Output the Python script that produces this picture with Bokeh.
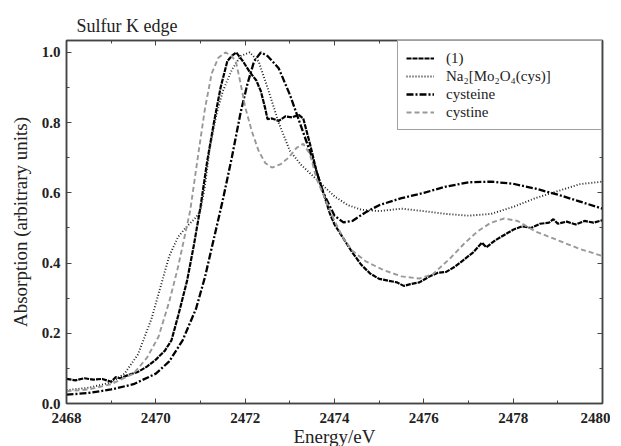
from bokeh.plotting import figure
from bokeh.models import (FixedTicker, LinearAxis, Range1d, Legend, LegendItem,
                          CustomJSTickFormatter)
from bokeh.embed import file_html
from bokeh.resources import INLINE

# ---- data ----
e1 = [2468.0, 2468.2, 2468.4, 2468.6, 2468.8, 2469.0, 2469.1, 2469.2, 2469.4, 2469.6,
      2469.8, 2470.0, 2470.2, 2470.35, 2470.5, 2470.7, 2470.85, 2471.0, 2471.15, 2471.3,
      2471.45, 2471.6, 2471.7, 2471.8, 2471.95, 2472.1, 2472.25, 2472.35, 2472.45, 2472.5,
      2472.6, 2472.75, 2472.9, 2473.05, 2473.2, 2473.3, 2473.45, 2473.6, 2473.75, 2473.9,
      2474.0, 2474.2, 2474.4, 2474.6, 2474.8, 2475.0, 2475.2, 2475.4, 2475.55, 2475.7,
      2475.9, 2476.1, 2476.3, 2476.5, 2476.7, 2476.9, 2477.1, 2477.3, 2477.4, 2477.6,
      2477.8, 2478.0, 2478.2, 2478.4, 2478.6, 2478.8, 2478.9, 2479.0, 2479.2, 2479.4,
      2479.6, 2479.8, 2480.0]
v1 = [0.070, 0.066, 0.072, 0.068, 0.070, 0.062, 0.075, 0.072, 0.082, 0.090,
      0.105, 0.125, 0.150, 0.180, 0.250, 0.350, 0.450, 0.560, 0.690, 0.800,
      0.900, 0.975, 0.990, 1.000, 0.975, 0.945, 0.920, 0.890, 0.840, 0.810,
      0.812, 0.805, 0.818, 0.815, 0.822, 0.812, 0.740, 0.660, 0.600, 0.540,
      0.510, 0.470, 0.430, 0.395, 0.370, 0.355, 0.350, 0.345, 0.335, 0.340,
      0.345, 0.360, 0.372, 0.375, 0.390, 0.410, 0.430, 0.458, 0.445, 0.465,
      0.480, 0.495, 0.505, 0.500, 0.512, 0.515, 0.525, 0.512, 0.518, 0.510,
      0.520, 0.515, 0.522]

e_na = [2468.0, 2468.5, 2469.0, 2469.3, 2469.6, 2469.9, 2470.1, 2470.3, 2470.5, 2470.7,
        2470.9, 2471.0, 2471.1, 2471.2, 2471.35, 2471.5, 2471.7, 2471.9, 2472.1, 2472.3,
        2472.5, 2472.75, 2473.0, 2473.25, 2473.5, 2473.75, 2474.0, 2474.3, 2474.6, 2475.0,
        2475.5, 2476.0, 2476.5, 2477.0, 2477.5, 2478.0, 2478.5, 2479.0, 2479.5, 2480.0]
v_na = [0.038, 0.045, 0.060, 0.085, 0.140, 0.240, 0.330, 0.420, 0.475, 0.505,
        0.530, 0.550, 0.620, 0.720, 0.820, 0.890, 0.950, 0.990, 1.000, 0.975,
        0.900, 0.800, 0.720, 0.680, 0.650, 0.620, 0.590, 0.565, 0.552, 0.548,
        0.555, 0.548, 0.540, 0.535, 0.540, 0.560, 0.585, 0.605, 0.625, 0.632]

e_cys = [2468.0, 2468.5, 2469.0, 2469.5, 2470.0, 2470.3, 2470.6, 2470.9, 2471.1, 2471.3,
         2471.5, 2471.7, 2471.9, 2472.05, 2472.2, 2472.35, 2472.5, 2472.75, 2473.0, 2473.25,
         2473.5, 2473.75, 2474.0, 2474.2, 2474.4, 2474.7, 2475.0, 2475.5, 2476.0, 2476.5,
         2477.0, 2477.5, 2478.0, 2478.5, 2479.0, 2479.5, 2480.0]
v_cys = [0.025, 0.030, 0.040, 0.055, 0.085, 0.120, 0.180, 0.270, 0.360, 0.470,
         0.580, 0.700, 0.830, 0.910, 0.975, 1.000, 0.990, 0.955, 0.880, 0.790,
         0.700, 0.600, 0.535, 0.516, 0.520, 0.545, 0.565, 0.585, 0.600, 0.618,
         0.630, 0.632, 0.626, 0.612, 0.595, 0.575, 0.555]

e_cyt = [2468.0, 2468.5, 2469.0, 2469.5, 2469.8, 2470.06, 2470.3, 2470.5, 2470.77, 2470.95,
         2471.1, 2471.25, 2471.4, 2471.56, 2471.7, 2471.8, 2471.9, 2472.0, 2472.15, 2472.3,
         2472.45, 2472.6, 2472.8, 2472.97, 2473.15, 2473.3, 2473.45, 2473.6, 2473.8, 2474.0,
         2474.2, 2474.4, 2474.7, 2475.1, 2475.5, 2475.9, 2476.2, 2476.6, 2476.9, 2477.2,
         2477.5, 2477.8, 2478.1, 2478.5, 2479.0, 2479.5, 2480.0]
v_cyt = [0.035, 0.040, 0.055, 0.085, 0.130, 0.190, 0.290, 0.390, 0.550, 0.710,
         0.840, 0.940, 0.985, 1.000, 0.990, 0.970, 0.910, 0.845, 0.775, 0.720,
         0.685, 0.672, 0.682, 0.700, 0.728, 0.740, 0.710, 0.640, 0.580, 0.520,
         0.470, 0.435, 0.405, 0.380, 0.362, 0.356, 0.368, 0.415, 0.455, 0.490,
         0.515, 0.527, 0.520, 0.490, 0.465, 0.440, 0.420]

labels = ["(1)", "Na\u2082[Mo\u2082O\u2084(cys)]", "cysteine", "cystine"]
x_ticks = [2468, 2470, 2472, 2474, 2476, 2478, 2480]
x_minor = [2469, 2471, 2473, 2475, 2477, 2479]
y_ticks = [0.0, 0.2, 0.4, 0.6, 0.8, 1.0]
y_minor = [0.1, 0.3, 0.5, 0.7, 0.9]

SERIF = "Liberation Serif"
AX = "#444444"

p = figure(frame_width=536, frame_height=363, output_backend="svg", toolbar_location=None,
           x_range=Range1d(2468, 2480), y_range=Range1d(0, 1.034),
           min_border_left=66, min_border_right=8, min_border_top=40, min_border_bottom=30,
           title="Sulfur K edge")
p.title.text_font = SERIF
p.title.text_font_size = "18px"
p.title.text_font_style = "normal"
p.title.text_color = "#222222"
p.title.align = "left"
p.title.offset = 10
p.title.standoff = 9
p.grid.visible = False
p.outline_line_color = AX
p.outline_line_width = 1.5
p.background_fill_color = "white"
p.border_fill_color = "white"

r1 = p.line(e1, v1, line_color="black", line_width=2.2, line_dash="5 1")
r2 = p.line(e_na, v_na, line_color="#222222", line_width=1.9, line_dash="1 2")
r3 = p.line(e_cys, v_cys, line_color="black", line_width=2.3, line_dash="7 2 2 2")
r4 = p.line(e_cyt, v_cyt, line_color="#999999", line_width=1.9, line_dash="5 3")

def style_axis(ax, show_labels, ticks, minor):
    ax.ticker = FixedTicker(ticks=ticks, minor_ticks=minor)
    ax.major_tick_in = 5
    ax.major_tick_out = 0
    ax.minor_tick_in = 3
    ax.minor_tick_out = 0
    ax.axis_line_color = AX
    ax.major_tick_line_color = AX
    ax.minor_tick_line_color = AX
    ax.axis_line_width = 1.5
    if show_labels:
        ax.major_label_text_font = SERIF
        ax.major_label_text_font_size = "15px"
        ax.major_label_text_font_style = "bold"
        ax.major_label_text_color = "#222222"
        ax.axis_label_text_font = SERIF
        ax.axis_label_text_font_size = "19px"
        ax.axis_label_text_font_style = "normal"
        ax.axis_label_text_color = "#222222"
    else:
        ax.formatter = CustomJSTickFormatter(code="return '';")
        ax.major_label_standoff = 0

xa = p.xaxis[0]
ya = p.yaxis[0]
xa.axis_label = "Energy/eV"
ya.axis_label = "Absorption (arbitrary units)"
style_axis(xa, True, x_ticks, x_minor)
style_axis(ya, True, y_ticks, y_minor)
xa.major_label_standoff = 9
xa.axis_label_standoff = 0
ya.major_label_standoff = 6
ya.axis_label_standoff = 8
ya.formatter = CustomJSTickFormatter(code="return tick.toFixed(1);")

top = LinearAxis()
right = LinearAxis()
style_axis(top, False, x_ticks, x_minor)
style_axis(right, False, y_ticks, y_minor)
p.add_layout(top, "above")
p.add_layout(right, "right")

legend = Legend(items=[LegendItem(label=labels[0], renderers=[r1]),
                       LegendItem(label=labels[1], renderers=[r2]),
                       LegendItem(label=labels[2], renderers=[r3]),
                       LegendItem(label=labels[3], renderers=[r4])],
                location="top_right")
legend.margin = 0
legend.padding = 8
legend.spacing = 0
legend.glyph_width = 28
legend.glyph_height = 18
legend.label_height = 18
legend.label_width = 147
legend.label_standoff = 12
legend.label_text_font = SERIF
legend.label_text_font_size = "15px"
legend.label_text_color = "#222222"
legend.border_line_color = AX
legend.border_line_width = 1.5
legend.background_fill_alpha = 1.0
p.add_layout(legend, "center")

open("out.html", "w").write(file_html(p, INLINE))
